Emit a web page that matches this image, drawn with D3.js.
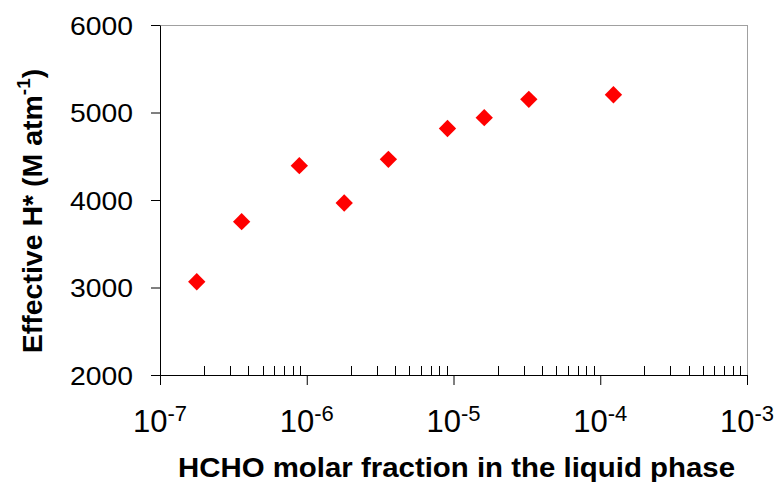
<!DOCTYPE html>
<html><head><meta charset="utf-8">
<script src="https://cdn.jsdelivr.net/npm/d3@7"></script>
<style>body{margin:0;background:#fff}svg{display:block}text{font-family:"Liberation Sans",Arial,sans-serif}</style>
</head><body>
<svg id="c" width="784" height="482"></svg>
<script>
const xValues = [1.78e-7, 3.6e-7, 8.9e-7, 1.80e-6, 3.6e-6, 9.1e-6, 1.62e-5, 3.26e-5, 1.23e-4];
const hValues = [3066, 3752, 4392, 3966, 4465, 4817, 4941, 5151, 5203];
const xMajorExps = [-7, -6, -5, -4, -3];
const yTicks = [2000, 3000, 4000, 5000, 6000];

const svg = d3.select("#c");
const L = 160, R = 747, T = 25, B = 375;
const x = d3.scaleLog().domain([1e-7, 1e-3]).range([L, R]);
const y = d3.scaleLinear().domain([2000, 6000]).range([B, T]);

// box (top & right)
svg.append("line").attr("x1", L).attr("x2", R).attr("y1", T + 0.5).attr("y2", T + 0.5).attr("stroke", "#a0a0a0").attr("stroke-width", 1);
svg.append("line").attr("x1", R + 0.5).attr("x2", R + 0.5).attr("y1", T).attr("y2", B).attr("stroke", "#a0a0a0").attr("stroke-width", 1);

// y axis
const ya = svg.append("g").attr("transform", `translate(${L},0)`)
  .call(d3.axisLeft(y).tickValues(yTicks).tickSize(9).tickSizeOuter(0).tickPadding(18).tickFormat(d3.format("d")));
ya.select(".domain").attr("stroke", "#000");
ya.selectAll(".tick line").attr("stroke", "#000");
ya.selectAll("text").attr("font-size", 25).attr("dy", 9).attr("fill", "#000")
  .attr("textLength", 63).attr("lengthAdjust", "spacingAndGlyphs")
  .style("font-family", "Liberation Sans, Arial, sans-serif");

// x axis
const majors = xMajorExps.map(e => Math.pow(10, e));
const minors = [];
for (let i = 0; i < xMajorExps.length - 1; i++) for (let k = 2; k <= 9; k++) minors.push(k * majors[i]);
const xa = svg.append("g").attr("transform", `translate(0,${B})`)
  .call(d3.axisBottom(x).tickValues(majors).tickSize(10).tickSizeOuter(0).tickFormat(""));
xa.select(".domain").attr("stroke", "#000").attr("d", `M${L - 9},0.5H${R}`);
xa.selectAll(".tick line").attr("stroke", "#000");
svg.append("g").selectAll("line").data(minors).join("line")
  .attr("x1", d => Math.round(x(d)) + 0.5).attr("x2", d => Math.round(x(d)) + 0.5)
  .attr("y1", B - 9).attr("y2", B).attr("stroke", "#000").attr("stroke-width", 1);

// x tick labels with superscripts
const xl = svg.append("g").selectAll("text").data(xMajorExps).join("text")
  .attr("x", e => x(Math.pow(10, e))).attr("y", 432)
  .attr("text-anchor", "middle").attr("fill", "#000").attr("font-size", 31);
xl.append("tspan").text("10");
xl.append("tspan").attr("font-size", 22).attr("dy", -11).text(e => "-" + (-e));

// points (diamonds)
const sym = d3.symbol().type(d3.symbolSquare).size(150);
svg.append("g").selectAll("path").data(xValues.map((v, i) => [v, hValues[i]])).join("path")
  .attr("d", sym)
  .attr("transform", d => `translate(${x(d[0])},${y(d[1])}) rotate(45)`)
  .attr("fill", "#ff0000");

// axis titles
svg.append("text").attr("x", 178).attr("y", 477)
  .attr("font-size", 28).attr("font-weight", "bold").attr("fill", "#000")
  .attr("textLength", 557).attr("lengthAdjust", "spacingAndGlyphs")
  .text("HCHO molar fraction in the liquid phase");
const yt = svg.append("text").attr("transform", "translate(42,211) rotate(-90)")
  .attr("text-anchor", "middle").attr("font-size", 28.5).attr("font-weight", "bold").attr("fill", "#000");
yt.append("tspan").text("Effective H* (M atm");
yt.append("tspan").attr("font-size", 19).attr("dy", -12).text("-1");
yt.append("tspan").attr("dy", 12).text(")");
</script>
</body></html>
